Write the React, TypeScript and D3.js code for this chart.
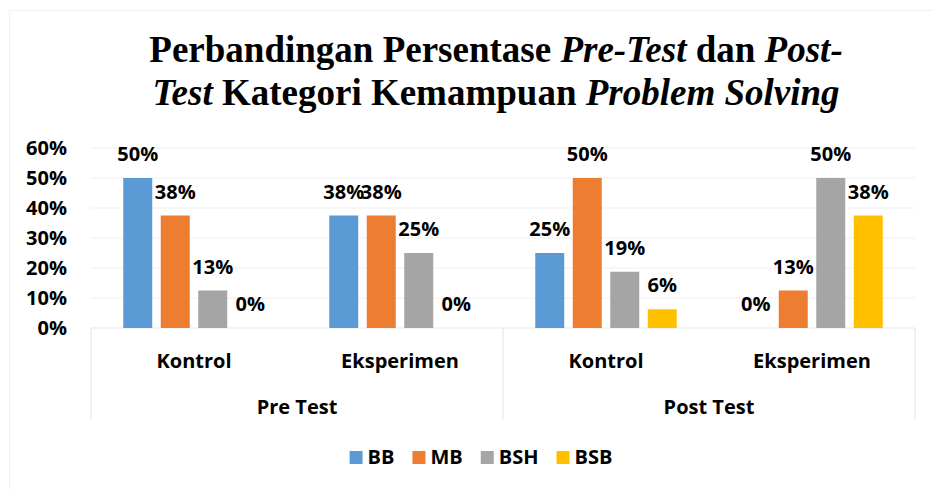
import React, { useEffect, useRef } from 'react';
import * as d3 from 'd3';

const groups = ['Pre Test', 'Post Test'];
const subGroups = ['Kontrol', 'Eksperimen'];
const seriesNames = ['BB', 'MB', 'BSH', 'BSB'];
const seriesColors = ['#5b9bd5', '#ed7d31', '#a5a5a5', '#ffc000'];
// values per series, in order: Pre Kontrol, Pre Eksperimen, Post Kontrol, Post Eksperimen
const bbValues = [0.5, 0.375, 0.25, 0];
const mbValues = [0.375, 0.375, 0.5, 0.125];
const bshValues = [0.125, 0.25, 0.1875, 0.5];
const bsbValues = [0, 0, 0.0625, 0.375];
const yTicks = [0, 0.1, 0.2, 0.3, 0.4, 0.5, 0.6];

const W = 933;
const H = 490;
const FONT = "'Open Sans', sans-serif";
const FS = 20;

const App: React.FC = () => {
  const ref = useRef<SVGSVGElement>(null);

  useEffect(() => {
    const svg = d3.select(ref.current);
    svg.selectAll('*').remove();

    const allValues = [bbValues, mbValues, bshValues, bsbValues];
    const cats = groups.flatMap(g => subGroups.map(s => `${g}|${s}`));
    const rows = cats.map((c, i) => ({
      cat: c,
      values: seriesNames.map((s, j) => ({ name: s, value: allValues[j][i], color: seriesColors[j] })),
    }));

    const margin = { left: 91, right: 18, top: 148, bottom: 162 };
    const x0 = d3.scaleBand().domain(cats).range([margin.left, W - margin.right]).padding(0);
    const x1 = d3.scaleBand().domain(seriesNames).range([0, x0.bandwidth()])
      .paddingInner(0.227).paddingOuter(0.86);
    const y = d3.scaleLinear().domain([0, 0.6]).range([H - margin.bottom, margin.top]);
    const fmt = d3.format('.0%');

    // outer chart border (extends past the right/bottom of the picture)
    svg.append('rect')
      .attr('x', 9.5).attr('y', 10.5).attr('width', 944).attr('height', H)
      .attr('fill', 'none').attr('stroke', '#f2f2f2');

    // title
    const title = svg.append('text')
      .attr('text-anchor', 'middle')
      .attr('font-family', "'Liberation Serif', 'Times New Roman', serif")
      .attr('font-weight', 'bold')
      .attr('font-size', 37)
      .attr('fill', '#000');
    const line1 = [
      ['Perbandingan Persentase ', false], ['Pre-Test', true], [' dan ', false], ['Post-', true],
    ] as [string, boolean][];
    const line2 = [
      ['Test', true], [' Kategori Kemampuan ', false], ['Problem Solving', true],
    ] as [string, boolean][];
    [line1, line2].forEach((parts, li) => {
      parts.forEach(([t, it], pi) => {
        const ts = title.append('tspan')
          .attr('font-style', it ? 'italic' : 'normal')
          .text(t);
        if (pi === 0) ts.attr('x', 496).attr('y', li === 0 ? 62 : 105);
      });
    });

    // gridlines
    svg.append('g').selectAll('line').data(yTicks.slice(1)).join('line')
      .attr('x1', margin.left).attr('x2', W - margin.right)
      .attr('y1', d => y(d)).attr('y2', d => y(d))
      .attr('stroke', '#f0f0f0').attr('stroke-width', 1.2);

    // y labels
    svg.append('g').selectAll('text').data(yTicks).join('text')
      .attr('x', 67).attr('y', d => y(d) + 7)
      .attr('text-anchor', 'end')
      .attr('font-family', FONT).attr('font-weight', 'bold').attr('font-size', FS)
      .text(d => fmt(d));

    // category axis box
    const axisY = y(0);
    const axisBottom = 420;
    const axis = svg.append('g').attr('stroke', '#e8e8e8').attr('stroke-width', 1.2);
    axis.append('line').attr('x1', margin.left).attr('x2', W - margin.right)
      .attr('y1', axisY).attr('y2', axisY);
    const groupEdges = [margin.left, x0(`${groups[1]}|${subGroups[0]}`)!, W - margin.right];
    axis.selectAll('line.v').data(groupEdges).join('line')
      .attr('class', 'v')
      .attr('x1', d => d).attr('x2', d => d).attr('y1', axisY).attr('y2', axisBottom);

    // bars
    const g = svg.append('g').selectAll('g').data(rows).join('g')
      .attr('transform', d => `translate(${x0(d.cat)},0)`);
    g.selectAll('rect').data(d => d.values).join('rect')
      .attr('x', d => x1(d.name)!)
      .attr('width', x1.bandwidth())
      .attr('y', d => y(d.value))
      .attr('height', d => axisY - y(d.value))
      .attr('fill', d => d.color);
    g.selectAll('text').data(d => d.values).join('text')
      .attr('x', d => x1(d.name)! + x1.bandwidth() / 2)
      .attr('y', d => y(d.value) - 17)
      .attr('text-anchor', 'middle')
      .attr('font-family', FONT).attr('font-weight', 'bold').attr('font-size', FS)
      .text(d => fmt(d.value));

    // sub category labels
    svg.append('g').selectAll('text').data(cats).join('text')
      .attr('x', d => x0(d)! + x0.bandwidth() / 2)
      .attr('y', 368)
      .attr('text-anchor', 'middle')
      .attr('font-family', FONT).attr('font-weight', 'bold').attr('font-size', FS)
      .text(d => d.split('|')[1]);

    // group labels
    svg.append('g').selectAll('text').data(groups).join('text')
      .attr('x', (d, i) => (groupEdges[i] + groupEdges[i + 1]) / 2)
      .attr('y', 414)
      .attr('text-anchor', 'middle')
      .attr('font-family', FONT).attr('font-weight', 'bold').attr('font-size', FS)
      .text(d => d);

    // legend, centred on the whole chart area
    const leg = svg.append('g');
    const items = leg.selectAll('g').data(seriesNames).join('g');
    items.append('rect').attr('width', 13).attr('height', 13).attr('y', -13)
      .attr('fill', (d, i) => seriesColors[i]);
    const texts = items.append('text').attr('x', 18).attr('y', 0)
      .attr('font-family', FONT).attr('font-weight', 'bold').attr('font-size', FS)
      .text(d => d);
    const widths: number[] = [];
    texts.each(function () { widths.push((this as SVGTextElement).getComputedTextLength()); });
    const gap = 18;
    const itemW = widths.map(w => 18 + w);
    const total = d3.sum(itemW) + gap * (itemW.length - 1);
    let cx = (9 + 953) / 2 - total / 2;
    items.attr('transform', (d, i) => {
      const t = `translate(${cx},464)`;
      cx += itemW[i] + gap;
      return t;
    });
  }, []);

  return (
    <svg ref={ref} width={W} height={H}
      style={{ position: 'absolute', left: 0, top: 0, background: '#fff' }} />
  );
};

export default App;
